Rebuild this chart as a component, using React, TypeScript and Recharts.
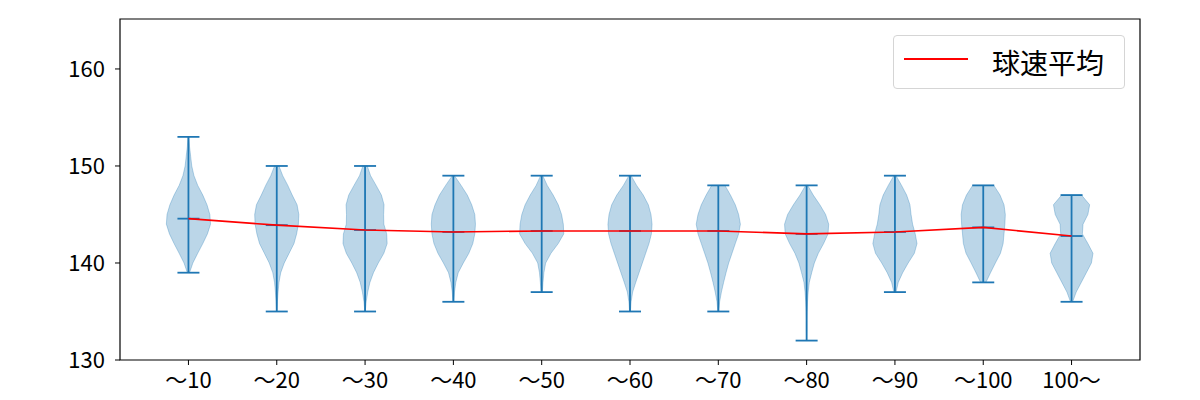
import { ComposedChart, Scatter, XAxis, YAxis, ErrorBar, ReferenceArea } from "recharts";

// velocity bucket labels
const categories = ["～10", "～20", "～30", "～40", "～50", "～60", "～70", "～80", "～90", "～100", "100～"];

const mins = [139, 135, 135, 136, 137, 135, 135, 132, 137, 138, 136];
const maxs = [153, 150, 150, 149, 149, 149, 148, 148, 149, 148, 147];
const means = [144.57, 143.9, 143.4, 143.2, 143.3, 143.3, 143.3, 143.0, 143.2, 143.67, 142.78];

// relative kde width, sampled every 1 km/h from min up to max
const densities = [
  [0.05, 0.2, 0.42, 0.65, 0.86, 1.0, 0.97, 0.84, 0.65, 0.42, 0.25, 0.15, 0.1, 0.05, 0.02],
  [0.01, 0.03, 0.06, 0.1, 0.18, 0.34, 0.56, 0.78, 0.9, 0.98, 1.0, 0.92, 0.7, 0.5, 0.27, 0.1],
  [0.01, 0.05, 0.12, 0.22, 0.38, 0.6, 0.85, 1.0, 0.98, 0.85, 0.84, 0.86, 0.74, 0.5, 0.25, 0.1],
  [0.02, 0.05, 0.11, 0.22, 0.45, 0.7, 0.88, 0.97, 1.0, 0.97, 0.83, 0.63, 0.35, 0.05],
  [0.03, 0.06, 0.1, 0.18, 0.42, 0.75, 1.0, 0.98, 0.9, 0.75, 0.52, 0.25, 0.05],
  [0.02, 0.05, 0.12, 0.26, 0.41, 0.56, 0.71, 0.86, 0.97, 1.0, 0.95, 0.83, 0.6, 0.3, 0.05],
  [0.02, 0.06, 0.14, 0.24, 0.35, 0.47, 0.62, 0.77, 0.92, 1.0, 0.92, 0.77, 0.55, 0.3],
  [0.0, 0.01, 0.01, 0.02, 0.04, 0.07, 0.12, 0.23, 0.35, 0.53, 0.77, 0.97, 1.0, 0.86, 0.6, 0.3, 0.05],
  [0.05, 0.15, 0.35, 0.6, 0.88, 1.0, 0.92, 0.8, 0.73, 0.68, 0.53, 0.3, 0.05],
  [0.12, 0.33, 0.55, 0.78, 0.9, 0.94, 0.98, 1.0, 0.94, 0.76, 0.48],
  [0.05, 0.21, 0.44, 0.67, 0.9, 0.97, 0.74, 0.49, 0.52, 0.74, 0.82, 0.45],
];

const yTicks = [130, 140, 150, 160];
const xTicks = categories.map((_, i) => i + 1);
const xDomain = [0.225, 11.775];
const yDomain = [130, 165.15];

const BLUE = "#1f77b4";
const HALF_WIDTH = 0.25;
const CAP = 11;

function outline(i: number) {
  const pos = i + 1;
  const right = densities[i].map((w, k) => ({ x: pos + HALF_WIDTH * w, y: mins[i] + k }));
  const left = densities[i].map((w, k) => ({ x: pos - HALF_WIDTH * w, y: mins[i] + k })).reverse();
  return [...right, ...left];
}

const whiskers = means.map((m, i) => ({ x: i + 1, y: m, err: [m - mins[i], maxs[i] - m] }));
const meanLine = means.map((m, i) => ({ x: i + 1, y: m }));

const noDot = () => <g />;

const meanCap = (props: any) => (
  <line x1={props.cx - CAP} x2={props.cx + CAP} y1={props.cy} y2={props.cy} stroke={BLUE} strokeWidth={1.8} />
);

export default function App() {
  const tickStyle = { fill: "#000", fontSize: 22 };
  return (
    <div style={{ position: "absolute", left: 0, top: 0, width: 1200, height: 400, background: "#fff", fontFamily: "'Noto Sans CJK JP', sans-serif" }}>
      <ComposedChart width={1200} height={400} margin={{ top: 19, right: 60, bottom: 10, left: 0 }}>
        <XAxis
          type="number"
          dataKey="x"
          domain={xDomain}
          ticks={xTicks}
          interval={0}
          allowDataOverflow
          tickFormatter={(v) => categories[v - 1]}
          tick={tickStyle}
          tickLine={{ stroke: "#000" }}
          axisLine={false}
          tickSize={5}
          tickMargin={7}
          height={30}
        />
        <YAxis
          type="number"
          dataKey="y"
          domain={yDomain}
          ticks={yTicks}
          allowDataOverflow
          tick={tickStyle}
          tickLine={{ stroke: "#000" }}
          axisLine={false}
          tickSize={5}
          tickMargin={10}
          width={120}
        />

        {densities.map((_, i) => (
          <Scatter
            key={"body" + i}
            data={outline(i)}
            fill={BLUE}
            shape={noDot}
            line={{ fill: BLUE, fillOpacity: 0.3, stroke: BLUE, strokeOpacity: 0.3, strokeWidth: 1 }}
            isAnimationActive={false}
          />
        ))}

        <Scatter data={whiskers} fill={BLUE} shape={meanCap} isAnimationActive={false}>
          <ErrorBar dataKey="err" direction="y" width={CAP} stroke={BLUE} strokeWidth={1.8} isAnimationActive={false} />
        </Scatter>

        <Scatter
          data={meanLine}
          fill="#ff0000"
          stroke="#ff0000"
          strokeWidth={1.6}
          shape={noDot}
          line={{ stroke: "#ff0000", strokeWidth: 1.6 }}
          isAnimationActive={false}
        />

        <ReferenceArea
          x1={xDomain[0]}
          x2={xDomain[1]}
          y1={yDomain[0]}
          y2={yDomain[1]}
          fill="none"
          stroke="#000"
          strokeWidth={1.2}
          ifOverflow="visible"
        />
      </ComposedChart>

      <div
        style={{
          position: "absolute",
          left: 893,
          top: 35,
          width: 230,
          height: 52,
          border: "1px solid #d5d5d5",
          borderRadius: 4,
          background: "rgba(255,255,255,0.8)",
        }}
      >
        <div style={{ position: "absolute", left: 10, top: 22, width: 64, height: 2, background: "#ff0000" }} />
        <div style={{ position: "absolute", left: 98, top: 6, fontSize: 28, lineHeight: "40px", color: "#000" }}>球速平均</div>
      </div>
    </div>
  );
}
